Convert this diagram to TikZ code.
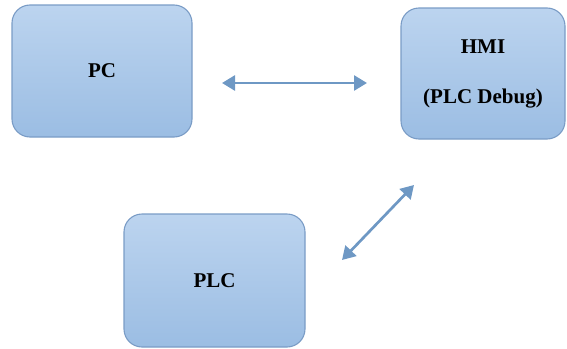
\documentclass[tikz,border=0pt]{standalone}
\usepackage{fontspec}
\setmainfont{Liberation Serif}
\usetikzlibrary{arrows.meta}
\definecolor{boxtop}{RGB}{188,212,239}
\definecolor{boxbot}{RGB}{155,189,227}
\definecolor{boxline}{RGB}{122,156,198}
\definecolor{linkcol}{RGB}{110,152,196}
\tikzset{
  unit/.style={rectangle, rounded corners=18pt, draw=boxline, line width=1.1pt,
    top color=boxtop, bottom color=boxbot, align=center,
    font=\fontsize{21}{25}\selectfont\bfseries},
  link/.style={draw=linkcol, line width=2.7pt,
    {Triangle[length=13pt,width=15pt]}-{Triangle[length=13pt,width=15pt]}}
}
\begin{document}
\begin{tikzpicture}[x=1pt,y=-1pt]
  \useasboundingbox (0,0) rectangle (567,348);
  \node[unit, minimum width=180pt, minimum height=132pt] (pc) at (102,71) {PC};
  \node[unit, minimum width=164pt, minimum height=131pt] (hmi) at (483,73.5)
    {HMI\\[25pt](PLC Debug)};
  \node[unit, minimum width=181pt, minimum height=133pt] (plc) at (214.5,280.5) {PLC};
  \coordinate (a1) at (222,83);
  \coordinate (a2) at (367,83);
  \coordinate (b1) at (342,260);
  \coordinate (b2) at (414,185);
  \draw[link] (a1) -- (a2);
  \draw[link] (b1) -- (b2);
\end{tikzpicture}
\end{document}
